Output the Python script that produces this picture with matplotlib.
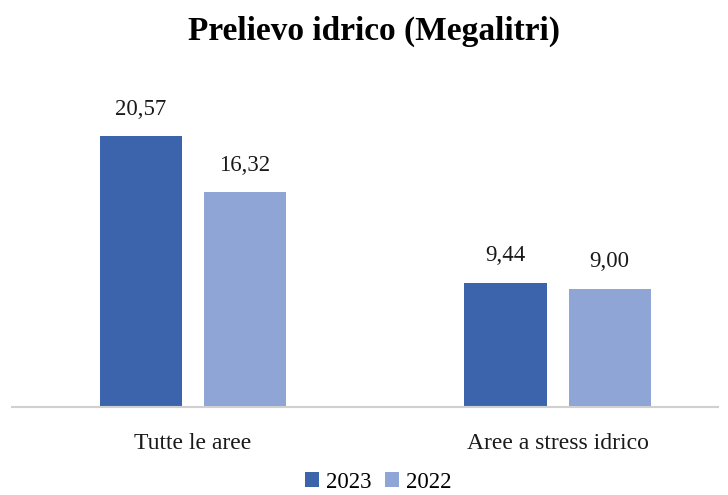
import matplotlib
matplotlib.use("Agg")
import matplotlib.pyplot as plt
import numpy as np

categories = ["Tutte le aree", "Aree a stress idrico"]
series_names = ["2023", "2022"]
values_2023 = [20.57, 9.44]
values_2022 = [16.32, 9.00]
colors = ["#3C64AD", "#8FA5D5"]

plt.rcParams['font.family'] = ['Liberation Serif', 'DejaVu Serif']

W, H = 728, 495
fig = plt.figure(figsize=(W/100, H/100), dpi=100)
ax_left, ax_right = 12, 718
ax_top, ax_bottom = 78, 407
ax = fig.add_axes([ax_left/W, 1-ax_bottom/H, (ax_right-ax_left)/W, (ax_bottom-ax_top)/H])

x = np.arange(len(categories))
bw = 0.225
off = 0.1427
b1 = ax.bar(x - off, values_2023, bw, color=colors[0], label=series_names[0])
b2 = ax.bar(x + off, values_2022, bw, color=colors[1], label=series_names[1])

for bars, vals in ((b1, values_2023), (b2, values_2022)):
    for r, v in zip(bars, vals):
        ax.annotate(f"{v:.2f}".replace(".", ","), (r.get_x() + r.get_width()/2, r.get_height()),
                    xytext=(0, 12), textcoords="offset points", ha="center", va="bottom",
                    fontsize=16.5, color="#1a1a1a")

ax.set_xlim(-0.4966, 1.4403)
ax.set_ylim(0, 25)
for s in ["top", "right", "left"]:
    ax.spines[s].set_visible(False)
ax.spines["bottom"].set_color("#D0D0D0")
ax.spines["bottom"].set_linewidth(1.5)
ax.set_yticks([])
ax.set_xticks(x)
ax.set_xticklabels(categories, fontsize=17, color="#1a1a1a")
ax.tick_params(axis="x", length=0, pad=19)

fig.text(374/W, 1-31/H, "Prelievo idrico (Megalitri)", ha="center", va="center",
         fontsize=24, fontweight="bold")

fig.legend(handles=[b1, b2], labels=series_names, loc="center", bbox_to_anchor=(378/W, 1-482/H),
           ncol=2, frameon=False, fontsize=16.5, handlelength=0.6, handleheight=0.6,
           handletextpad=0.3, columnspacing=0.6, borderaxespad=0)

fig.savefig("out.png", dpi=100)
